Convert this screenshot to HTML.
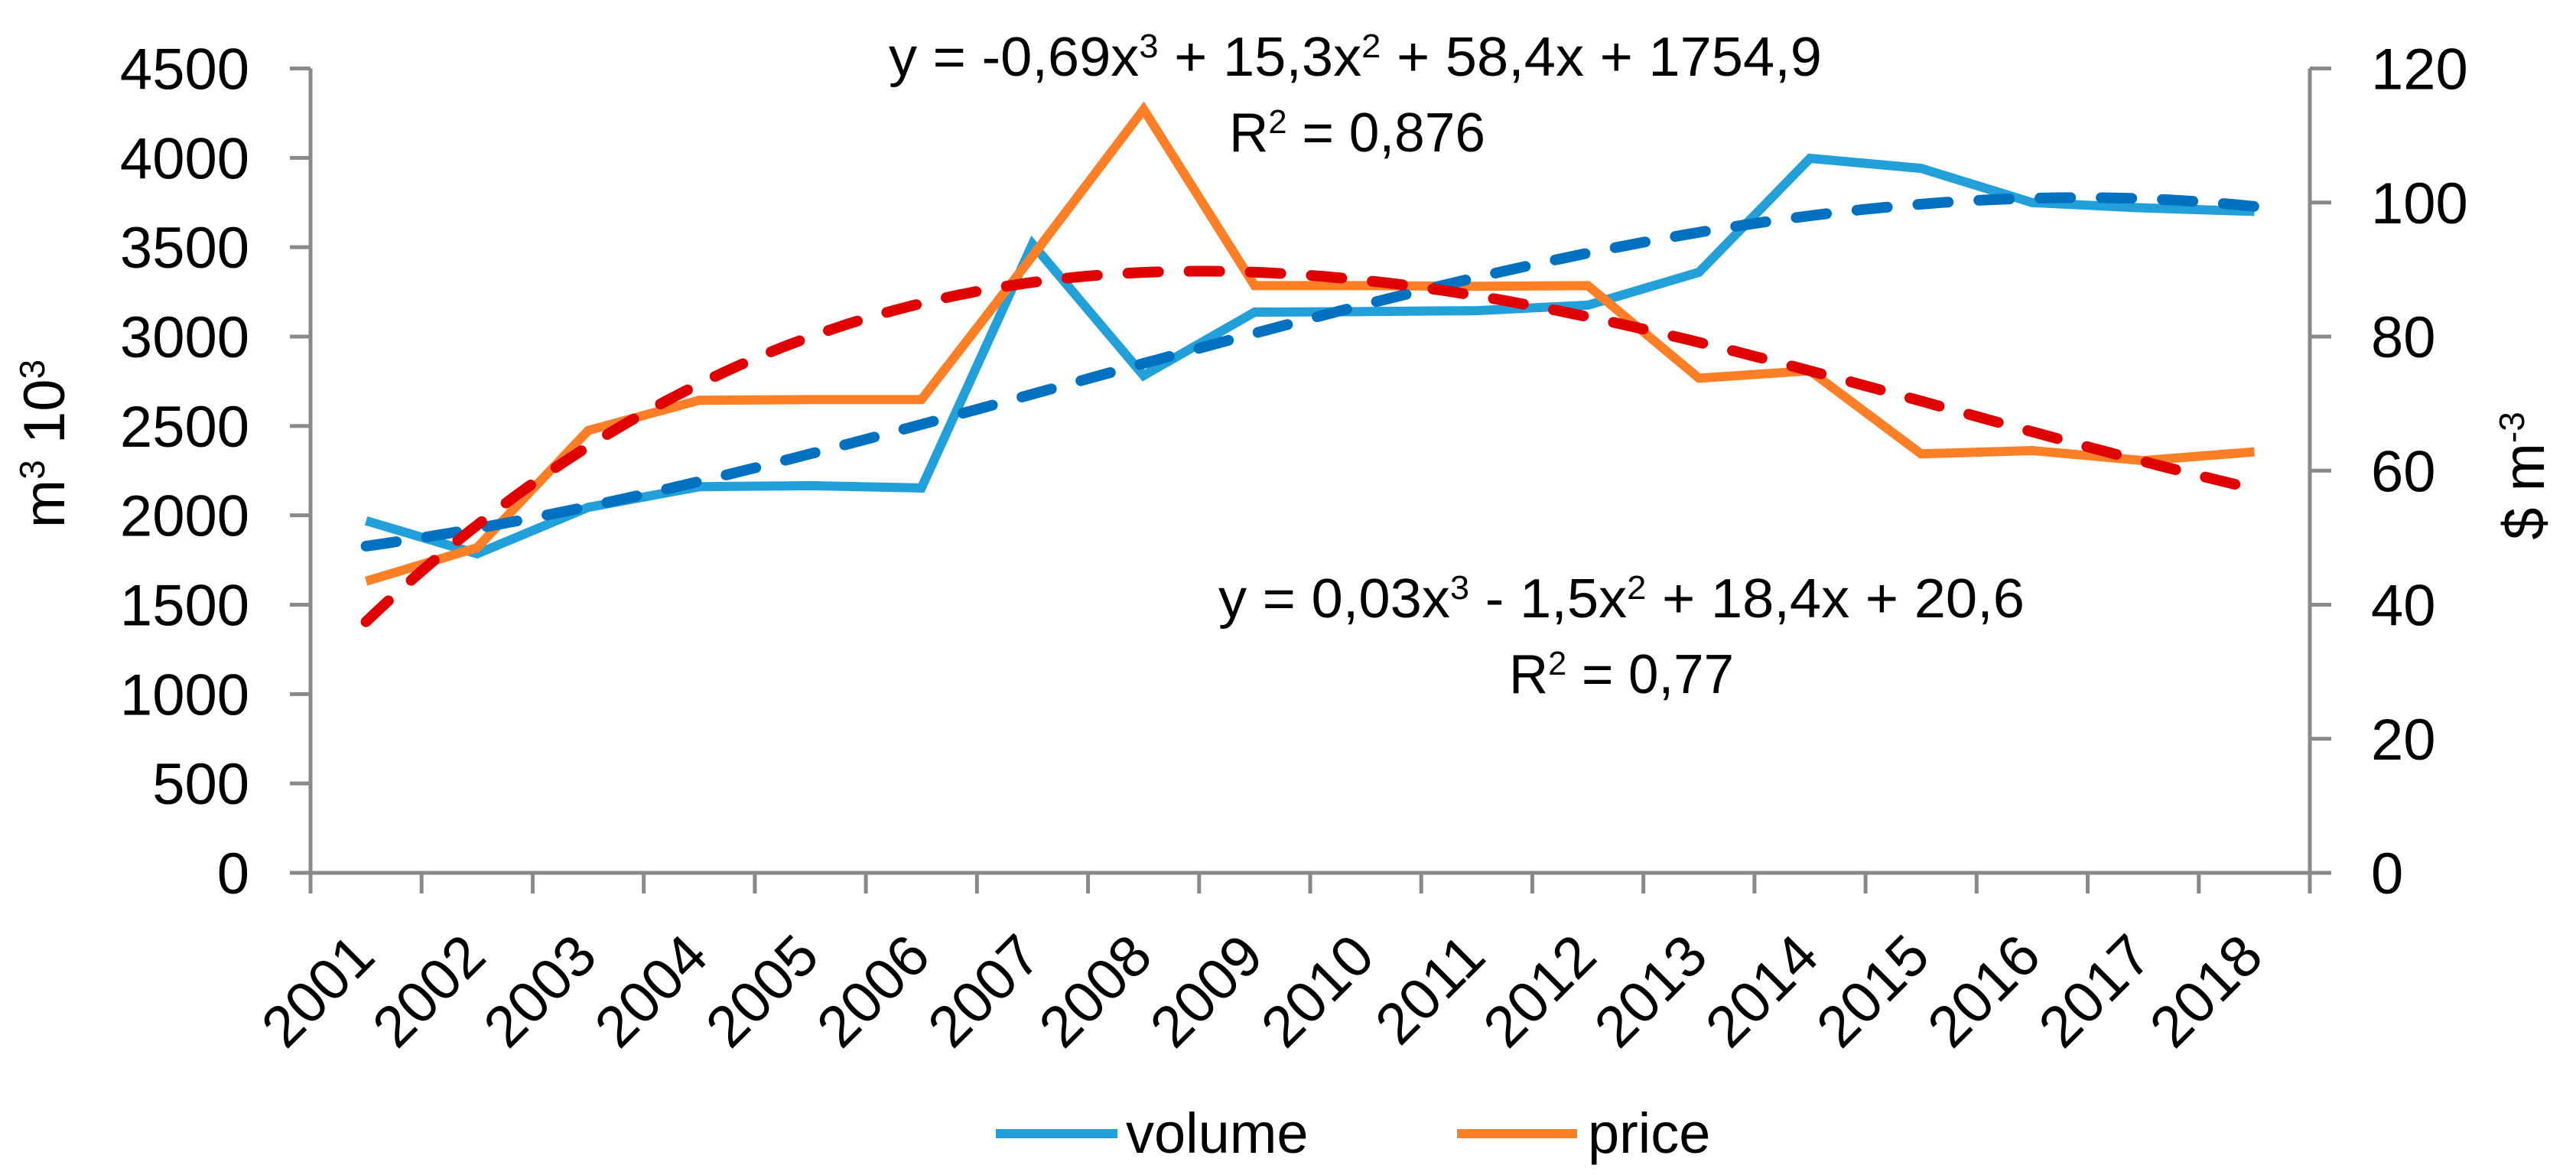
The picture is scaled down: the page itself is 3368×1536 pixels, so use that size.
<!DOCTYPE html>
<html><head><meta charset="utf-8"><style>
html,body{margin:0;padding:0;background:#fff;}
svg{display:block;}
text{font-family:"Liberation Sans",sans-serif;fill:#000;}
</style></head><body>
<svg id="chart" width="3368" height="1536" viewBox="0 0 3368 1536" xmlns="http://www.w3.org/2000/svg">
<g id="grid"></g>
<g id="series"></g>
<g id="axes"></g>
<text transform="translate(84,580) rotate(-90)" text-anchor="middle" font-size="76">m<tspan baseline-shift="super" font-size="46">3</tspan> 10<tspan baseline-shift="super" font-size="46">3</tspan></text>
<text transform="translate(3326,622) rotate(-90)" text-anchor="middle" font-size="76">$ m<tspan baseline-shift="super" font-size="46">-3</tspan></text>
<text x="1162" y="99" font-size="72" textLength="1220" lengthAdjust="spacingAndGlyphs">y = -0,69x<tspan baseline-shift="super" font-size="44">3</tspan> + 15,3x<tspan baseline-shift="super" font-size="44">2</tspan> + 58,4x + 1754,9</text>
<text x="1607" y="198" font-size="72" textLength="335" lengthAdjust="spacingAndGlyphs">R<tspan baseline-shift="super" font-size="44">2</tspan> = 0,876</text>
<text x="1593" y="807" font-size="72" textLength="1054" lengthAdjust="spacingAndGlyphs">y = 0,03x<tspan baseline-shift="super" font-size="44">3</tspan> - 1,5x<tspan baseline-shift="super" font-size="44">2</tspan> + 18,4x + 20,6</text>
<text x="1973" y="906" font-size="72" textLength="294" lengthAdjust="spacingAndGlyphs">R<tspan baseline-shift="super" font-size="44">2</tspan> = 0,77</text>
<g>
<line x1="1302" y1="1482" x2="1461" y2="1482" stroke="#22A0DA" stroke-width="12"/>
<text x="1472" y="1507" font-size="74">volume</text>
<line x1="1905" y1="1482" x2="2062" y2="1482" stroke="#FF7F27" stroke-width="12"/>
<text x="2076" y="1507" font-size="74">price</text>
</g>
</svg>
<script>
const years = ["2001","2002","2003","2004","2005","2006","2007","2008","2009","2010","2011","2012","2013","2014","2015","2016","2017","2018"];
const volume = [1970,1785,2045,2160,2166,2153,3518,2782,3137,3140,3145,3176,3360,3997,3941,3750,3720,3700];
const price = [43.5,48.5,66,70.5,70.6,70.6,92,113.9,87.6,87.6,87.5,87.6,73.8,74.9,62.5,63,61.5,62.8];
const leftTicks = [0,500,1000,1500,2000,2500,3000,3500,4000,4500];
const rightTicks = [0,20,40,60,80,100,120];

const NS="http://www.w3.org/2000/svg";
const X0=406,X1=3020,Y0=1141,YT=89.5;
const n=years.length, cw=(X1-X0)/n;
const xc=i=>X0+cw*(i+0.5);
const yL=v=>Y0-(v/4500)*(Y0-YT);
const yR=v=>Y0-(v/120)*(Y0-YT);
function mk(tag,attrs,parent){const e=document.createElementNS(NS,tag);for(const k in attrs)e.setAttribute(k,attrs[k]);parent.appendChild(e);return e;}
const axes=document.getElementById('axes'), ser=document.getElementById('series');
const AX="#898989";
let e;
e=mk('line',{x1:X0,y1:YT,x2:X0,y2:Y0,stroke:AX,'stroke-width':5},axes);


e=mk('line',{x1:X1,y1:YT,x2:X1,y2:Y0,stroke:AX,'stroke-width':5},axes);


e=mk('line',{x1:379,y1:Y0,x2:3048,y2:Y0,stroke:AX,'stroke-width':5},axes);


leftTicks.forEach(v=>{
  const y=yL(v);
  e=mk('line',{x1:379,y1:y,x2:X0,y2:y,stroke:AX,'stroke-width':5},axes);
  
  
  e=mk('text',{x:326,y:y+27,'text-anchor':'end','font-size':76},axes);
  e.textContent=v;
  
  
});
rightTicks.forEach(v=>{
  const y=yR(v);
  e=mk('line',{x1:X1,y1:y,x2:3048,y2:y,stroke:AX,'stroke-width':5},axes);
  
  
  e=mk('text',{x:3100,y:y+27,'text-anchor':'start','font-size':76},axes);
  e.textContent=v;
  
  
});
for(let i=0;i<=n;i++){
  const x=X0+cw*i;
  e=mk('line',{x1:x,y1:Y0,x2:x,y2:1168,stroke:AX,'stroke-width':5},axes);
  
  
}
years.forEach((yr,i)=>{
  const x=xc(i)+15,y=1254;
  e=mk('text',{x:x,y:y,'text-anchor':'end','font-size':76,transform:`rotate(-45 ${x} ${y})`},axes);
  e.textContent=yr;
  
  
});
function cubicFit(vals){
  const m=4,A=[...Array(m)].map(()=>Array(m+1).fill(0));
  vals.forEach((v,i)=>{const x=i+1;for(let r=0;r<m;r++){for(let c=0;c<m;c++)A[r][c]+=Math.pow(x,r+c);A[r][m]+=v*Math.pow(x,r);}});
  for(let c=0;c<m;c++){let p=c;for(let r=c+1;r<m;r++)if(Math.abs(A[r][c])>Math.abs(A[p][c]))p=r;[A[c],A[p]]=[A[p],A[c]];
    for(let r=0;r<m;r++)if(r!==c){const f=A[r][c]/A[c][c];for(let k=c;k<=m;k++)A[r][k]-=f*A[c][k];}}
  const b=A.map((r,i)=>r[m]/r[i]);
  return x=>b[0]+b[1]*x+b[2]*x*x+b[3]*x*x*x;
}
function trend(vals,sy,color,name){
  const f=cubicFit(vals);const pts=[];
  for(let t=0;t<=200;t++){const x=1+(n-1)*t/200;pts.push(`${xc(x-1).toFixed(1)},${sy(f(x)).toFixed(1)}`);}
  e=mk('polyline',{points:pts.join(' '),fill:'none',stroke:color,'stroke-width':14,'stroke-dasharray':'40 40','stroke-linecap':'round'},ser);
  
  
}
function line(vals,sy,color,name){
  e=mk('polyline',{points:vals.map((v,i)=>`${xc(i).toFixed(1)},${sy(v).toFixed(1)}`).join(' '),fill:'none',stroke:color,'stroke-width':12,'stroke-linejoin':'miter'},ser);
  
  
}
line(volume,yL,'#22A0DA','volume-line');
line(price,yR,'#FF7F27','price-line');
trend(volume,yL,'#0070C0','volume-trendline');
trend(price,yR,'#E00000','price-trendline');
</script>
</body></html>
